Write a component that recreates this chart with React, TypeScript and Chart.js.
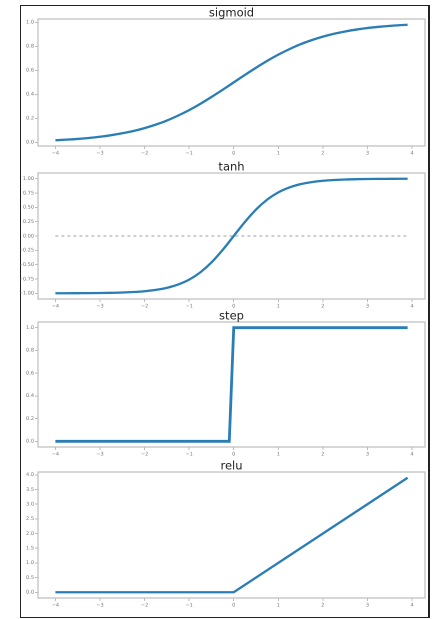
import React, { useEffect, useRef } from "react";
import { Chart, registerables } from "chart.js";

Chart.register(...registerables);

// ---- data ----
const CURVE_X = [
  -4, -3.75, -3.5, -3.25, -3, -2.75, -2.5, -2.25, -2, -1.75, -1.5, -1.25, -1, -0.75, -0.5, -0.25,
  0, 0.25, 0.5, 0.75, 1, 1.25, 1.5, 1.75, 2, 2.25, 2.5, 2.75, 3, 3.25, 3.5, 3.75, 3.9,
];
const SIGMOID_Y = [
  0.018, 0.023, 0.029, 0.037, 0.047, 0.06, 0.076, 0.095, 0.119, 0.148, 0.182, 0.223, 0.269, 0.321, 0.378, 0.438,
  0.5, 0.562, 0.622, 0.679, 0.731, 0.777, 0.818, 0.852, 0.881, 0.905, 0.924, 0.94, 0.953, 0.963, 0.971, 0.977, 0.98,
];
const TANH_Y = [
  -0.999, -0.999, -0.998, -0.997, -0.995, -0.992, -0.987, -0.978, -0.964, -0.941, -0.905, -0.848, -0.762, -0.635, -0.462, -0.245,
  0, 0.245, 0.462, 0.635, 0.762, 0.848, 0.905, 0.941, 0.964, 0.978, 0.987, 0.992, 0.995, 0.997, 0.998, 0.999, 0.999,
];
const ZERO_X = [-4, 3.9];
const ZERO_Y = [0, 0];
const STEP_X = [-4, -0.1, 0, 3.9];
const STEP_Y = [0, 0, 1, 1];
const RELU_X = [-4, 0, 3.9];
const RELU_Y = [0, 0, 3.9];

const X_TICKS = [-4, -3, -2, -1, 0, 1, 2, 3, 4];
const SIGMOID_TICKS = [0, 0.2, 0.4, 0.6, 0.8, 1.0];
const TANH_TICKS = [-1, -0.75, -0.5, -0.25, 0, 0.25, 0.5, 0.75, 1];
const STEP_TICKS = [0, 0.2, 0.4, 0.6, 0.8, 1.0];
const RELU_TICKS = [0, 0.5, 1, 1.5, 2, 2.5, 3, 3.5, 4];

const TITLES = ["sigmoid", "tanh", "step", "relu"];

const LINE_COLOR = "#2a7db5";
const AXIS_COLOR = "#bdbdbd";
const TICK_COLOR = "#777";

type Panel = {
  title: string;
  top: number;
  height: number;
  yMin: number;
  yMax: number;
  yTicks: number[];
  decimals: number;
  lines: { xs: number[]; ys: number[]; dashed?: boolean; smooth?: boolean; width?: number }[];
};

const PANELS: Panel[] = [
  { title: TITLES[0], top: 6, height: 152, yMin: -0.03, yMax: 1.028, yTicks: SIGMOID_TICKS, decimals: 1,
    lines: [{ xs: CURVE_X, ys: SIGMOID_Y, smooth: true, width: 2.3 }] },
  { title: TITLES[1], top: 160, height: 151, yMin: -1.0999, yMax: 1.0999, yTicks: TANH_TICKS, decimals: 2,
    lines: [{ xs: ZERO_X, ys: ZERO_Y, dashed: true }, { xs: CURVE_X, ys: TANH_Y, smooth: true, width: 2.3 }] },
  { title: TITLES[2], top: 309, height: 150, yMin: -0.05, yMax: 1.05, yTicks: STEP_TICKS, decimals: 1,
    lines: [{ xs: STEP_X, ys: STEP_Y, width: 2.8 }] },
  { title: TITLES[3], top: 459, height: 151, yMin: -0.195, yMax: 4.095, yTicks: RELU_TICKS, decimals: 1,
    lines: [{ xs: RELU_X, ys: RELU_Y, width: 2.3 }] },
];

const fmt = (v: number, d: number) => {
  const s = Math.abs(v).toFixed(d);
  return v < 0 ? "\u2212" + s : s;
};

const framePlugin = {
  id: "axesFrame",
  afterDraw(chart: any) {
    const { ctx, chartArea } = chart;
    const title = chart.options.plugins.panelTitle as string;
    ctx.save();
    ctx.strokeStyle = AXIS_COLOR;
    ctx.lineWidth = 1.2;
    ctx.strokeRect(chartArea.left, chartArea.top, chartArea.right - chartArea.left, chartArea.bottom - chartArea.top);
    ctx.fillStyle = "#222";
    ctx.font = "11.5px 'DejaVu Sans', sans-serif";
    ctx.textAlign = "center";
    ctx.textBaseline = "alphabetic";
    ctx.fillText(title, (chartArea.left + chartArea.right) / 2, chartArea.top - 2.5);
    ctx.restore();
  },
};

function PanelChart({ panel }: { panel: Panel }) {
  const ref = useRef<HTMLCanvasElement>(null);
  useEffect(() => {
    const canvas = ref.current!;
    const chart = new Chart(canvas, {
      type: "line",
      data: {
        datasets: panel.lines.map((l) => ({
          data: l.xs.map((x, i) => ({ x, y: l.ys[i] })),
          borderColor: l.dashed ? "#888" : LINE_COLOR,
          borderWidth: l.dashed ? 0.8 : l.width ?? 2.3,
          borderDash: l.dashed ? [3, 3] : [],
          pointRadius: 0,
          fill: false,
          cubicInterpolationMode: l.smooth ? "monotone" : "default",
          tension: 0,
        })),
      },
      options: {
        animation: false,
        responsive: false,
        devicePixelRatio: 2,
        layout: { padding: { top: 13, right: 4, left: 0, bottom: 0 } },
        plugins: {
          legend: { display: false },
          tooltip: { enabled: false },
          title: { display: false },
          panelTitle: panel.title,
        } as any,
        scales: {
          x: {
            type: "linear",
            min: -4.39,
            max: 4.29,
            afterBuildTicks: (s: any) => { s.ticks = X_TICKS.map((v) => ({ value: v })); },
            afterFit: (s: any) => { s.height = 12; },
            border: { display: false },
            grid: { drawOnChartArea: false, drawTicks: true, tickLength: 3, color: AXIS_COLOR },
            ticks: {
              autoSkip: false,
              maxRotation: 0,
              padding: 1,
              color: TICK_COLOR,
              font: { size: 5, family: "'DejaVu Sans', sans-serif" },
              callback: (v: any) => fmt(Number(v), 0),
            },
          },
          y: {
            type: "linear",
            min: panel.yMin,
            max: panel.yMax,
            afterBuildTicks: (s: any) => { s.ticks = panel.yTicks.map((v) => ({ value: v })); },
            afterFit: (s: any) => { s.width = 18; },
            border: { display: false },
            grid: { drawOnChartArea: false, drawTicks: true, tickLength: 3, color: AXIS_COLOR },
            ticks: {
              autoSkip: false,
              padding: 1,
              color: TICK_COLOR,
              font: { size: 5, family: "'DejaVu Sans', sans-serif" },
              callback: (v: any) => fmt(Number(v), panel.decimals),
            },
          },
        },
      },
      plugins: [framePlugin],
    });
    return () => chart.destroy();
  }, [panel]);
  return (
    <canvas
      ref={ref}
      width={409}
      height={panel.height}
      style={{ position: "absolute", left: 20, top: panel.top, width: 409, height: panel.height }}
    />
  );
}

export default function App() {
  return (
    <div style={{ position: "absolute", left: 0, top: 0, width: 432, height: 619, background: "#fff", overflow: "hidden" }}>
      <div
        style={{
          position: "absolute",
          left: 20,
          top: 5,
          width: 410,
          height: 613,
          boxSizing: "border-box",
          border: "1.5px solid #222",
          borderRightWidth: 2.5,
        }}
      />
      {PANELS.map((p) => (
        <PanelChart key={p.title} panel={p} />
      ))}
    </div>
  );
}
